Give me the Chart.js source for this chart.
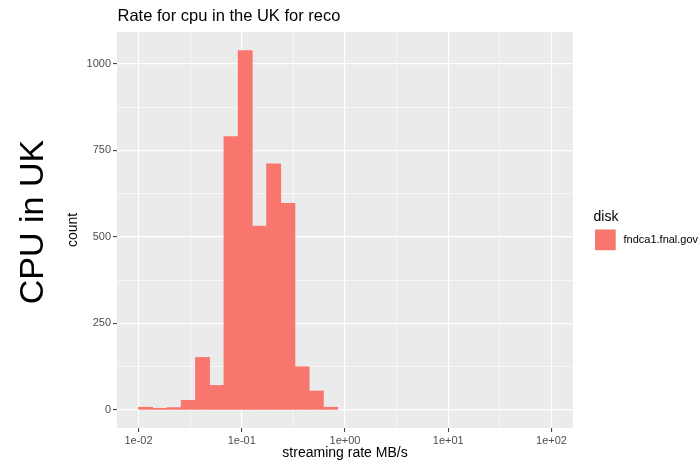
<!DOCTYPE html>
<html>
<head>
<meta charset="utf-8">
<script src="https://cdn.jsdelivr.net/npm/chart.js@4"></script>
<style>
  html, body { margin: 0; padding: 0; background: #fff; }
  canvas { display: block; }
</style>
</head>
<body>
<canvas id="myChart" width="700" height="464"></canvas>
<script>
// histogram bins (centre of each bin, MB/s) and their counts
const binCenters = [0.01172, 0.01611, 0.02213, 0.03034, 0.04169, 0.05728, 0.07870,
                    0.10814, 0.14825, 0.20370, 0.27990, 0.38459, 0.52845, 0.72611];
const counts = [8, 5, 7, 28, 152, 71, 790, 1038, 531, 711, 597, 125, 55, 8];

const xMajorTicks = [0.01, 0.1, 1, 10, 100];
const xTickLabels = ['1e-02', '1e-01', '1e+00', '1e+01', '1e+02'];
const yMajorTicks = [0, 250, 500, 750, 1000];

const seriesName = 'fndca1.fnal.gov';
const barColor = '#F8766D';
const font = '"Liberation Sans", Arial, sans-serif';

// minor gridlines sit half way (in log space) between major ones, like ggplot
let xAllTicks = [];
xMajorTicks.forEach((v, i) => {
  xAllTicks.push(v);
  if (i < xMajorTicks.length - 1) xAllTicks.push(Math.sqrt(v * xMajorTicks[i + 1]));
});

// grey panel + title, side label and legend drawn around the chart
const ggDecor = {
  id: 'ggDecor',
  beforeDraw(chart) {
    const {ctx, chartArea: a} = chart;
    ctx.save();
    ctx.fillStyle = '#EBEBEB';
    ctx.fillRect(a.left, a.top, a.right - a.left, a.bottom - a.top);
    ctx.restore();
  },
  afterDraw(chart) {
    const {ctx, chartArea: a} = chart;
    ctx.save();
    ctx.fillStyle = '#000';
    ctx.textAlign = 'left';
    ctx.textBaseline = 'alphabetic';
    ctx.font = '16.5px ' + font;
    ctx.fillText('Rate for cpu in the UK for reco', a.left + 0.5, 21);

    // big label on the far left
    ctx.save();
    ctx.translate(43, 222);
    ctx.rotate(-Math.PI / 2);
    ctx.textAlign = 'center';
    ctx.font = '34px ' + font;
    ctx.fillText('CPU in UK', 0, 0);
    ctx.restore();

    // legend
    ctx.font = '14px ' + font;
    ctx.fillText('disk', 593.5, 220.5);
    ctx.fillStyle = barColor;
    ctx.fillRect(595, 229.5, 20.7, 20.7);
    ctx.fillStyle = '#000';
    ctx.font = '11px ' + font;
    ctx.textBaseline = 'middle';
    ctx.fillText(seriesName, 623.5, 240);
    ctx.restore();
  }
};

const el = document.getElementById('myChart');
const myChart = new Chart(el, {
  type: 'bar',
  data: {
    datasets: [{
      label: seriesName,
      data: binCenters.map((x, i) => ({x: x, y: counts[i]})),
      backgroundColor: barColor,
      borderWidth: 0,
      barPercentage: 1,
      categoryPercentage: 1
    }]
  },
  options: {
    responsive: false,
    animation: false,
    devicePixelRatio: 1,
    layout: { padding: { left: 0, right: 127, top: 32, bottom: 0 } },
    plugins: {
      legend: { display: false },
      tooltip: { enabled: false }
    },
    scales: {
      x: {
        type: 'logarithmic',
        min: Math.pow(10, -2.208),
        max: Math.pow(10, 2.208),
        offset: false,
        afterBuildTicks: scale => { scale.ticks = xAllTicks.map(v => ({value: v})); },
        afterFit: scale => { scale.height = 36; },
        border: { display: false },
        grid: {
          offset: false,
          color: '#FFFFFF',
          lineWidth: c => (xMajorTicks.indexOf(c.tick && c.tick.value) >= 0 ? 1.2 : 0.6),
          tickLength: 4,
          tickColor: c => (xMajorTicks.indexOf(c.tick && c.tick.value) >= 0 ? '#333333' : 'rgba(0,0,0,0)'),
          tickWidth: 1
        },
        ticks: {
          autoSkip: false,
          maxRotation: 0,
          padding: 2,
          color: '#4D4D4D',
          font: { family: font, size: 11 },
          callback: v => {
            const i = xMajorTicks.indexOf(v);
            return i >= 0 ? xTickLabels[i] : '';
          }
        },
        title: {
          display: true,
          text: 'streaming rate MB/s',
          color: '#000',
          font: { family: font, size: 14 },
          padding: { top: 0, bottom: 2 }
        }
      },
      y: {
        type: 'linear',
        min: -52,
        max: 1092,
        afterFit: scale => { scale.width = 117; },
        border: { display: false },
        grid: {
          color: '#FFFFFF',
          lineWidth: c => (yMajorTicks.indexOf(c.tick && c.tick.value) >= 0 ? 1.2 : 0.6),
          tickLength: 4,
          tickColor: c => (yMajorTicks.indexOf(c.tick && c.tick.value) >= 0 ? '#333333' : 'rgba(0,0,0,0)'),
          tickWidth: 1
        },
        ticks: {
          stepSize: 125,
          includeBounds: false,
          padding: 2,
          color: '#4D4D4D',
          font: { family: font, size: 11 },
          callback: v => (yMajorTicks.indexOf(v) >= 0 ? String(v) : '')
        },
        title: {
          display: true,
          text: 'count',
          color: '#000',
          font: { family: font, size: 14 },
          padding: { top: 64.6, bottom: 0 }
        }
      }
    }
  },
  plugins: [ggDecor]
});
if (!myChart) { console.log('no chart'); }
</script>
</body>
</html>
